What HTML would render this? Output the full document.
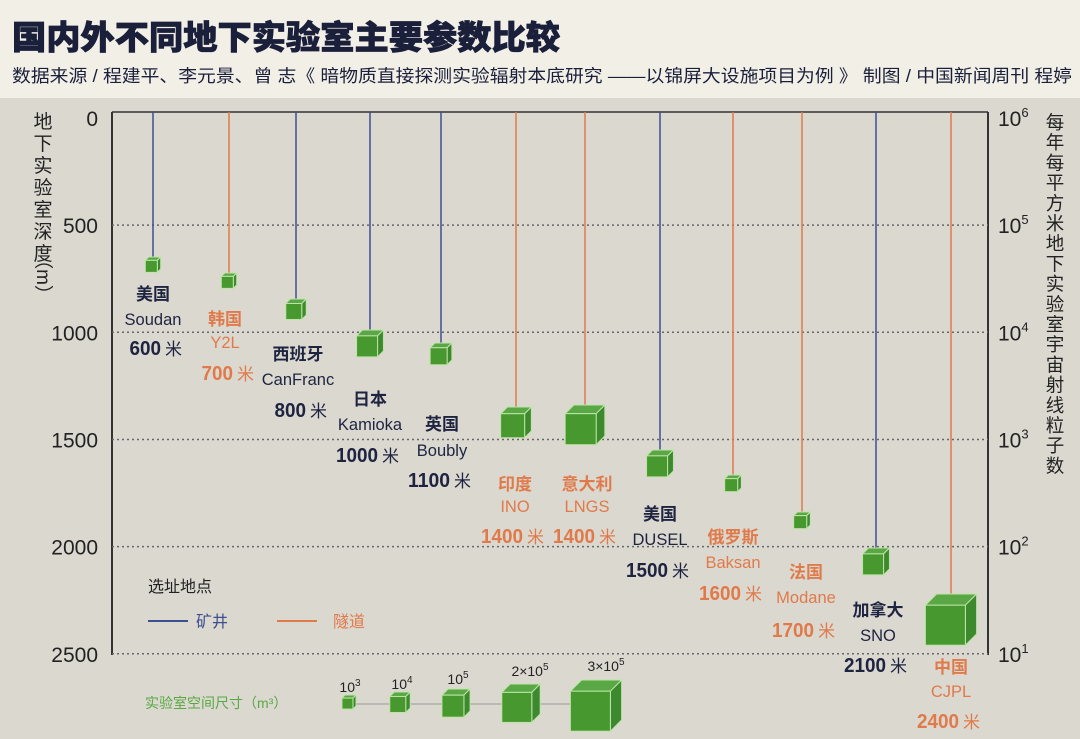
<!DOCTYPE html>
<html><head><meta charset="utf-8"><style>
body{margin:0;width:1080px;height:739px;overflow:hidden;background:#dbd8d0;font-family:"Liberation Sans","Noto Sans CJK SC",sans-serif}
</style></head><body>
<svg id="s" width="1080" height="739" xmlns="http://www.w3.org/2000/svg" style="position:absolute;left:0;top:0;font-family:'Liberation Sans','Noto Sans CJK SC',sans-serif">
<rect x="0" y="0" width="1080" height="98" fill="#f2efe7"/>
<rect x="0" y="98" width="1080" height="641" fill="#dbd8d0"/>
<text x="12" y="49" font-size="33" font-weight="900" fill="#1a1f3a" stroke="#1a1f3a" stroke-width="0.8" textLength="548" lengthAdjust="spacingAndGlyphs">国内外不同地下实验室主要参数比较</text>
<text x="12" y="82" font-size="17.5" fill="#1a1f3a" textLength="1060" lengthAdjust="spacingAndGlyphs">数据来源 / 程建平、李元景、曾 志《 暗物质直接探测实验辐射本底研究 ——以锦屏大设施项目为例 》 制图 / 中国新闻周刊  程婷</text>
<g id="g"></g>
</svg>
<script>
const g=document.getElementById('g');let h='';
const y=d=>118+d*0.2143;
h+='<line x1="112" y1="112" x2="112" y2="655" stroke="#333" stroke-width="2"/>';
h+='<line x1="112" y1="112" x2="988" y2="112" stroke="#333" stroke-width="1.5"/>';
h+='<line x1="988" y1="112" x2="988" y2="655" stroke="#333" stroke-width="2"/>';
[500,1000,1500,2000,2500].forEach(d=>{h+=`<line x1="112" y1="${y(d)}" x2="988" y2="${y(d)}" stroke="#666" stroke-width="1.5" stroke-dasharray="2,3"/>`});
[0,500,1000,1500,2000,2500].forEach(d=>{h+=`<text x="98" y="${y(d)+8}" font-size="21" fill="#222" text-anchor="end">${d}</text>`});
[6,5,4,3,2,1].forEach((e,i)=>{let yy=y(i*500)+8;h+=`<text x="998" y="${yy}" font-size="21" fill="#222">10<tspan dy="-9" font-size="13">${e}</tspan></text>`});
'地下实验室深度'.split('').forEach((c,i)=>{h+=`<text x="43" y="${128+i*22}" font-size="19" fill="#222" text-anchor="middle">${c}</text>`});
h+=`<text x="43" y="${283}" font-size="19" fill="#222" text-anchor="middle" transform="rotate(90 43 277)">（m）</text>`;
'每年每平方米地下实验室宇宙射线粒子数'.split('').forEach((c,i)=>{h+=`<text x="1055" y="${129+i*20.2}" font-size="18.5" fill="#222" text-anchor="middle">${c}</text>`});
const B='#3e4f8f',O='#e07a4a';
function cube(cx,top,s){let d=s*0.28;let x=cx-s/2-d/2,yy=top+d;
return `<polygon points="${x},${yy} ${x+d},${top} ${x+s+d},${top} ${x+s},${yy}" fill="#5aa845" stroke="#bfe3a8" stroke-width="1"/>
<polygon points="${x+s},${yy} ${x+s+d},${top} ${x+s+d},${top+s} ${x+s},${yy+s}" fill="#3d8a2e" stroke="#bfe3a8" stroke-width="1"/>
<rect x="${x}" y="${yy}" width="${s}" height="${s}" fill="#47992f" stroke="#bfe3a8" stroke-width="1"/>`;}
const L=[[153,B,257,12],[229,O,273,12],[296,B,299,16],[370,B,330,21],[441,B,343,17],[516,O,407,24],[585,O,405,31],[660,B,450,21],[733,O,475,13],[802,O,512,13],[876,B,548,21],[951,O,594,40]];
L.forEach(([x,c,t,s])=>{h+=`<line x1="${x}" y1="112" x2="${x}" y2="${t+3}" stroke="${c}" stroke-width="1.5"/>`+cube(x,t,s)});
const K='#1e2340';
const lab=[[153,K,'美国','Soudan','600',300,325,355],[225,O,'韩国','Y2L','700',325,348,380],[298,K,'西班牙','CanFranc','800',360,385,417],[370,K,'日本','Kamioka','1000',405,430,462],[442,K,'英国','Boubly','1100',430,456,487],[515,O,'印度','INO','1400',490,512,543],[587,O,'意大利','LNGS','1400',490,512,543],[660,K,'美国','DUSEL','1500',520,545,577],[733,O,'俄罗斯','Baksan','1600',543,568,600],[806,O,'法国','Modane','1700',578,603,637],[878,K,'加拿大','SNO','2100',616,641,672],[951,O,'中国','CJPL','2400',673,697,728]];
lab.forEach(([x,c,a,b,n,y1,y2,y3])=>{h+=`<text x="${x}" y="${y1}" font-size="17" font-weight="bold" fill="${c}" text-anchor="middle">${a}</text>
<text x="${x}" y="${y2}" font-size="16.5" fill="${c}" text-anchor="middle">${b}</text>
<text x="${x+8}" y="${y3}" font-size="20" font-weight="bold" fill="${c}" text-anchor="end" textLength="${n.length*10.5}" lengthAdjust="spacingAndGlyphs">${n}</text>
<text x="${x+12}" y="${y3}" font-size="17" fill="${c}">米</text>`});
h+=`<text x="148" y="592" font-size="16" fill="#222">选址地点</text>
<line x1="148" y1="621" x2="188" y2="621" stroke="${B}" stroke-width="2"/><text x="196" y="627" font-size="16" fill="${B}">矿井</text>
<line x1="277" y1="621" x2="317" y2="621" stroke="${O}" stroke-width="2"/><text x="333" y="627" font-size="16" fill="${O}">隧道</text>`;
h+=`<text x="145" y="708" font-size="14" fill="#5aa845">实验室空间尺寸（m³）</text>`;
h+=`<line x1="345" y1="704" x2="600" y2="704" stroke="#999" stroke-width="1"/>`;
[[349,695,11,'10<tspan dy="-6" font-size="10">3</tspan>',350,692],[400,692,16,'10<tspan dy="-6" font-size="10">4</tspan>',402,689],[456,689,22,'10<tspan dy="-6" font-size="10">5</tspan>',458,684],[521,684,30,'2×10<tspan dy="-6" font-size="10">5</tspan>',530,676],[596,680,40,'3×10<tspan dy="-6" font-size="10">5</tspan>',606,671]].forEach(([x,t,s,lbl,lx,ly])=>{h+=cube(x,t,s)+`<text x="${lx}" y="${ly}" font-size="14" fill="#222" text-anchor="middle">${lbl}</text>`});
g.innerHTML=h;
</script>
</body></html>
